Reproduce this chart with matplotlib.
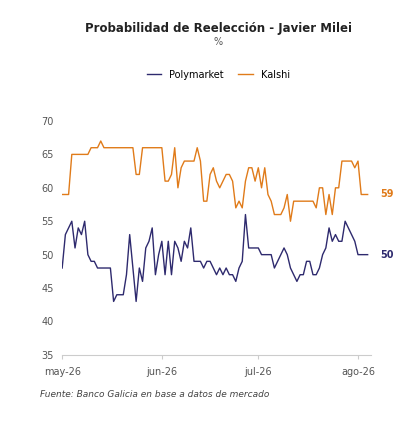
import matplotlib.pyplot as plt
import matplotlib.dates as mdates
import pandas as pd

kalshi = [59, 59, 59, 65, 65, 65, 65, 65, 65, 66, 66, 66, 67,
          66, 66, 66, 66, 66, 66, 66, 66, 66, 66, 62, 62,
          66, 66, 66, 66, 66, 66, 66, 61, 61, 62, 66, 60, 63, 64, 64, 64, 64,
          66, 64, 58, 58, 62, 63, 61, 60, 61, 62, 62, 61, 57, 58, 57, 61, 63, 63,
          61, 63, 60, 63, 59, 58, 56, 56, 56, 57, 59, 55, 58, 58, 58, 58, 58, 58,
          58, 57, 60, 60, 56, 59, 56, 60, 60, 64, 64, 64, 64, 63, 64, 59, 59, 59]
polymarket = [48, 53, 54, 55, 51, 54, 53, 55, 50, 49, 49, 48, 48, 48, 48, 48, 43, 44, 44, 44,
              47, 53, 48, 43, 48, 46, 51, 52, 54, 47, 50, 52, 47, 52, 47, 52, 51, 49, 52, 51,
              54, 49, 49, 49, 48, 49, 49, 48, 47, 48, 47, 48, 47, 47, 46, 48, 49, 56, 51, 51,
              51, 51, 50, 50, 50, 50, 48, 49, 50, 51, 50, 48, 47, 46, 47, 47, 49, 49, 47, 47,
              48, 50, 51, 54, 52, 53, 52, 52, 55, 54, 53, 52, 50, 50, 50, 50]
dates = pd.date_range("2026-05-01", periods=len(kalshi), freq="D")

navy = "#2E2A6E"
orange = "#E07B1A"

fig = plt.figure(figsize=(4.2, 4.23), dpi=100)
ax = fig.add_axes([0.148, 0.161, 0.735, 0.553])

ax.plot(dates, polymarket, color=navy, lw=1.0, label="Polymarket")
ax.plot(dates, kalshi, color=orange, lw=1.0, label="Kalshi")

ax.text(dates[-1] + pd.Timedelta(days=4), kalshi[-1], str(kalshi[-1]), color=orange,
        fontsize=7, fontweight="bold", va="center")
ax.text(dates[-1] + pd.Timedelta(days=4), polymarket[-1], str(polymarket[-1]), color=navy,
        fontsize=7, fontweight="bold", va="center")

ax.set_ylim(35, 70)
ax.set_yticks(range(35, 71, 5))
ax.set_xlim(pd.Timestamp("2026-05-01"), pd.Timestamp("2026-08-05"))
ax.xaxis.set_major_locator(mdates.MonthLocator())
months = {5: "may", 6: "jun", 7: "jul", 8: "ago"}
ax.xaxis.set_major_formatter(plt.FuncFormatter(
    lambda v, p: f"{months[mdates.num2date(v).month]}-26"))
ax.tick_params(labelsize=7, colors="#555555", length=0, pad=6)
ax.tick_params(axis="x", length=3, color="#cccccc")
for s in ["top", "right", "left"]:
    ax.spines[s].set_visible(False)
ax.spines["bottom"].set_color("#cccccc")

fig.text(0.52, 0.925, "Probabilidad de Reelección - Javier Milei", ha="center",
         fontsize=8.5, fontweight="bold", color="#222222")
fig.text(0.52, 0.893, "%", ha="center", fontsize=7, color="#555555")
fig.legend(loc="center", bbox_to_anchor=(0.52, 0.823), ncol=2, frameon=False,
           fontsize=7, handlelength=1.5, columnspacing=1.5)
fig.text(0.095, 0.062, "Fuente: Banco Galicia en base a datos de mercado",
         fontsize=6.5, style="italic", color="#444444")

fig.savefig("out.png", dpi=100)
